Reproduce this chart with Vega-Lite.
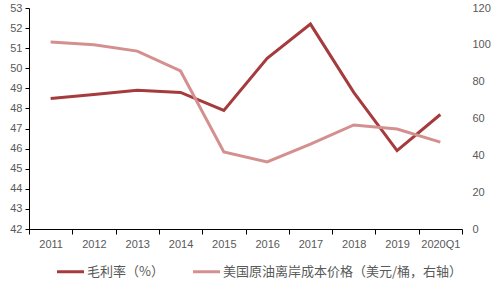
{
  "$schema": "https://vega.github.io/schema/vega-lite/v6.json",
  "width": 433,
  "height": 221,
  "autosize": {"type": "none"},
  "padding": {"left": 29, "top": 8, "right": 37, "bottom": 54},
  "background": "white",
  "config": {
    "view": {"stroke": null},
    "font": "Noto Sans CJK SC",
    "axis": {"labelFont": "Liberation Sans", "labelColor": "#595959", "labelFontSize": 11, "grid": false, "title": null, "domainColor": "#000000", "tickColor": "#000000"}
  },
  "data": {
    "values": [
      {"year": "2011", "series": "毛利率（%）", "value": 48.5},
      {"year": "2012", "series": "毛利率（%）", "value": 48.7},
      {"year": "2013", "series": "毛利率（%）", "value": 48.9},
      {"year": "2014", "series": "毛利率（%）", "value": 48.8},
      {"year": "2015", "series": "毛利率（%）", "value": 47.9},
      {"year": "2016", "series": "毛利率（%）", "value": 50.5},
      {"year": "2017", "series": "毛利率（%）", "value": 52.2},
      {"year": "2018", "series": "毛利率（%）", "value": 48.8},
      {"year": "2019", "series": "毛利率（%）", "value": 45.9},
      {"year": "2020Q1", "series": "毛利率（%）", "value": 47.7},
      {"year": "2011", "series": "美国原油离岸成本价格（美元/桶，右轴）", "value": 101.5},
      {"year": "2012", "series": "美国原油离岸成本价格（美元/桶，右轴）", "value": 100.0},
      {"year": "2013", "series": "美国原油离岸成本价格（美元/桶，右轴）", "value": 96.6},
      {"year": "2014", "series": "美国原油离岸成本价格（美元/桶，右轴）", "value": 85.8},
      {"year": "2015", "series": "美国原油离岸成本价格（美元/桶，右轴）", "value": 41.8},
      {"year": "2016", "series": "美国原油离岸成本价格（美元/桶，右轴）", "value": 36.4},
      {"year": "2017", "series": "美国原油离岸成本价格（美元/桶，右轴）", "value": 46.1},
      {"year": "2018", "series": "美国原油离岸成本价格（美元/桶，右轴）", "value": 56.5},
      {"year": "2019", "series": "美国原油离岸成本价格（美元/桶，右轴）", "value": 54.3},
      {"year": "2020Q1", "series": "美国原油离岸成本价格（美元/桶，右轴）", "value": 47.2}
    ]
  },
  "encoding": {
    "x": {
      "field": "year", "type": "ordinal", "sort": null,
      "scale": {"paddingInner": 0, "paddingOuter": 0},
      "axis": {"labelAngle": 0, "tickBand": "extent", "tickSize": 5, "labelPadding": 4, "labelFontSize": 11}
    },
    "color": {
      "field": "series", "type": "nominal", "sort": null,
      "scale": {"domain": ["毛利率（%）", "美国原油离岸成本价格（美元/桶，右轴）"], "range": ["#A53B3D", "#D4908F"]},
      "legend": {"orient": "none", "legendX": 26, "legendY": 248, "direction": "horizontal", "title": null, "symbolType": "stroke", "symbolStrokeWidth": 3, "symbolSize": 730, "labelFontSize": 13, "labelColor": "#595959", "labelFont": "Noto Sans CJK SC", "labelLimit": 400, "columnPadding": 22, "labelOffset": 1}
    }
  },
  "layer": [
    {
      "transform": [{"filter": "datum.series === '毛利率（%）'"}],
      "mark": {"type": "line", "strokeWidth": 3},
      "encoding": {
        "y": {"field": "value", "type": "quantitative",
          "scale": {"domain": [42, 53], "nice": false, "zero": false},
          "axis": {"values": [42,43,44,45,46,47,48,49,50,51,52,53], "tickSize": 4, "labelPadding": 3}}
      }
    },
    {
      "transform": [{"filter": "datum.series !== '毛利率（%）'"}],
      "mark": {"type": "line", "strokeWidth": 3},
      "encoding": {
        "y": {"field": "value", "type": "quantitative",
          "scale": {"domain": [0, 120], "nice": false},
          "axis": {"orient": "right", "values": [0,20,40,60,80,100,120], "domain": false, "ticks": false, "labelPadding": 10}}
      }
    }
  ],
  "resolve": {"scale": {"y": "independent"}}
}
